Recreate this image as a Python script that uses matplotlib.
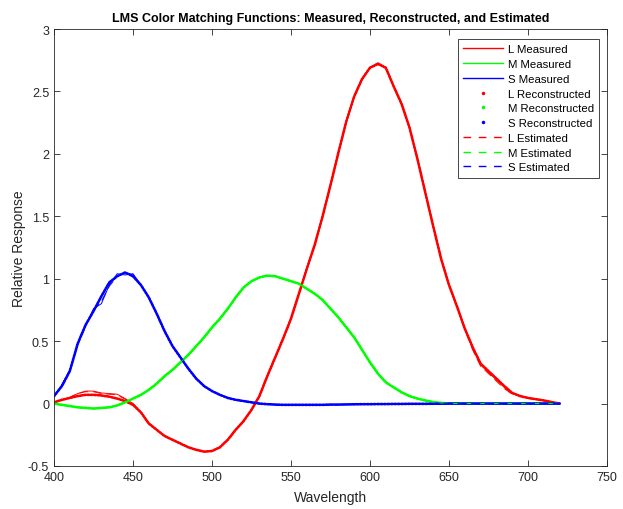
import matplotlib
matplotlib.use("Agg")
import matplotlib.pyplot as plt
from matplotlib.lines import Line2D

plt.rcParams['font.family'] = ['Liberation Sans', 'DejaVu Sans']

wavelength = list(range(400, 725, 5))

L_measured = [0.01, 0.03, 0.05, 0.08, 0.10, 0.10, 0.085, 0.08, 0.075, 0.04,
              0.00, -0.07, -0.16, -0.21, -0.26, -0.29, -0.32, -0.35, -0.37, -0.385,
              -0.38, -0.35, -0.29, -0.21, -0.14, -0.05, 0.06, 0.22, 0.37, 0.52,
              0.68, 0.88, 1.08, 1.27, 1.50, 1.75, 2.01, 2.26, 2.46, 2.60,
              2.69, 2.73, 2.69, 2.54, 2.40, 2.21, 1.96, 1.69, 1.42, 1.16,
              0.95, 0.78, 0.60, 0.44, 0.31, 0.25, 0.19, 0.13, 0.08, 0.06,
              0.045, 0.035, 0.025, 0.012, 0.00]
M_measured = [0.00, -0.01, -0.02, -0.03, -0.035, -0.04, -0.035, -0.03, -0.015, 0.01,
              0.04, 0.07, 0.11, 0.16, 0.22, 0.27, 0.33, 0.39, 0.46, 0.53,
              0.61, 0.68, 0.76, 0.85, 0.93, 0.98, 1.01, 1.025, 1.02, 1.00,
              0.98, 0.96, 0.92, 0.88, 0.83, 0.76, 0.69, 0.61, 0.53, 0.43,
              0.33, 0.24, 0.17, 0.13, 0.09, 0.06, 0.04, 0.025, 0.012, 0.005,
              0.002, 0.001, 0.001, 0.0, 0.0, 0.0, 0.0, 0.0, 0.0, 0.0,
              0.0, 0.0, 0.0, 0.0, 0.0]
S_measured = [0.06, 0.15, 0.27, 0.48, 0.62, 0.76, 0.80, 0.95, 1.04, 1.03,
              1.04, 0.95, 0.85, 0.72, 0.58, 0.46, 0.37, 0.28, 0.20, 0.14,
              0.10, 0.07, 0.045, 0.03, 0.02, 0.01, 0.0, -0.005, -0.008, -0.01,
              -0.01, -0.01, -0.01, -0.01, -0.01, -0.008, -0.008, -0.007, -0.006, -0.005,
              -0.005, -0.004, -0.004, -0.003, -0.003, -0.002, -0.002, -0.002, -0.001, -0.001,
              0.0, 0.0, 0.0, 0.0, 0.0, 0.0, 0.0, 0.0, 0.0, 0.0,
              0.0, 0.0, 0.0, 0.0, 0.0]

L_reconstructed = [0.01, 0.03, 0.045, 0.06, 0.07, 0.07, 0.065, 0.055, 0.04, 0.02,
                   -0.01, -0.07, -0.16, -0.21, -0.26, -0.29, -0.32, -0.35, -0.37, -0.385,
                   -0.38, -0.35, -0.29, -0.21, -0.14, -0.05, 0.06, 0.22, 0.37, 0.52,
                   0.68, 0.88, 1.08, 1.27, 1.50, 1.75, 2.01, 2.26, 2.46, 2.60,
                   2.69, 2.72, 2.69, 2.54, 2.40, 2.21, 1.96, 1.69, 1.42, 1.16,
                   0.95, 0.78, 0.60, 0.45, 0.32, 0.26, 0.20, 0.14, 0.085, 0.06,
                   0.045, 0.035, 0.025, 0.012, 0.00]
M_reconstructed = [0.00, -0.01, -0.02, -0.03, -0.035, -0.04, -0.035, -0.03, -0.015, 0.01,
                   0.04, 0.07, 0.11, 0.16, 0.22, 0.27, 0.33, 0.39, 0.46, 0.53,
                   0.61, 0.68, 0.76, 0.85, 0.93, 0.98, 1.01, 1.025, 1.02, 1.00,
                   0.98, 0.96, 0.92, 0.88, 0.83, 0.76, 0.69, 0.61, 0.53, 0.43,
                   0.33, 0.24, 0.17, 0.13, 0.09, 0.06, 0.04, 0.025, 0.012, 0.005,
                   0.002, 0.001, 0.001, 0.0, 0.0, 0.0, 0.0, 0.0, 0.0, 0.0,
                   0.0, 0.0, 0.0, 0.0, 0.0]
S_reconstructed = [0.06, 0.14, 0.26, 0.48, 0.63, 0.74, 0.86, 0.97, 1.02, 1.05,
                   1.02, 0.95, 0.85, 0.72, 0.58, 0.46, 0.37, 0.28, 0.20, 0.14,
                   0.10, 0.07, 0.045, 0.03, 0.02, 0.01, 0.0, -0.005, -0.008, -0.01,
                   -0.01, -0.01, -0.01, -0.01, -0.01, -0.008, -0.008, -0.007, -0.006, -0.005,
                   -0.005, -0.004, -0.004, -0.003, -0.003, -0.002, -0.002, -0.002, -0.001, -0.001,
                   0.0, 0.0, 0.0, 0.0, 0.0, 0.0, 0.0, 0.0, 0.0, 0.0,
                   0.0, 0.0, 0.0, 0.0, 0.0]

L_estimated = [0.01, 0.03, 0.05, 0.08, 0.095, 0.095, 0.08, 0.075, 0.07, 0.035,
               0.00, -0.07, -0.16, -0.21, -0.26, -0.29, -0.32, -0.35, -0.37, -0.385,
               -0.38, -0.35, -0.29, -0.21, -0.14, -0.05, 0.06, 0.22, 0.37, 0.52,
               0.68, 0.88, 1.08, 1.27, 1.50, 1.75, 2.01, 2.26, 2.46, 2.60,
               2.69, 2.73, 2.69, 2.54, 2.40, 2.21, 1.96, 1.69, 1.42, 1.16,
               0.95, 0.78, 0.60, 0.43, 0.30, 0.24, 0.18, 0.12, 0.075, 0.06,
               0.045, 0.035, 0.025, 0.012, 0.00]
M_estimated = [0.00, -0.01, -0.02, -0.03, -0.035, -0.04, -0.035, -0.03, -0.015, 0.01,
               0.04, 0.07, 0.11, 0.16, 0.22, 0.27, 0.33, 0.39, 0.46, 0.53,
               0.61, 0.68, 0.76, 0.85, 0.93, 0.98, 1.01, 1.025, 1.02, 1.00,
               0.98, 0.96, 0.92, 0.88, 0.83, 0.76, 0.69, 0.61, 0.53, 0.43,
               0.33, 0.24, 0.17, 0.13, 0.09, 0.06, 0.04, 0.025, 0.012, 0.005,
               0.002, 0.001, 0.001, 0.0, 0.0, 0.0, 0.0, 0.0, 0.0, 0.0,
               0.0, 0.0, 0.0, 0.0, 0.0]
S_estimated = [0.05, 0.15, 0.27, 0.47, 0.62, 0.75, 0.82, 0.94, 1.02, 1.05,
               1.03, 0.95, 0.85, 0.72, 0.58, 0.46, 0.37, 0.28, 0.20, 0.14,
               0.10, 0.07, 0.045, 0.03, 0.02, 0.01, 0.0, -0.005, -0.008, -0.01,
               -0.01, -0.01, -0.01, -0.01, -0.01, -0.008, -0.008, -0.007, -0.006, -0.005,
               -0.005, -0.004, -0.004, -0.003, -0.003, -0.002, -0.002, -0.002, -0.001, -0.001,
               0.0, 0.0, 0.0, 0.0, 0.0, 0.0, 0.0, 0.0, 0.0, 0.0,
               0.0, 0.0, 0.0, 0.0, 0.0]

labels = ['L Measured', 'M Measured', 'S Measured',
          'L Reconstructed', 'M Reconstructed', 'S Reconstructed',
          'L Estimated', 'M Estimated', 'S Estimated']
colors = ['#ff0000', '#00ff00', '#0000ff']

fig = plt.figure(figsize=(6.23, 5.10), dpi=100)
ax = fig.add_axes([54/623, 43/510, 553/623, 437/510])

measured = [L_measured, M_measured, S_measured]
recon = [L_reconstructed, M_reconstructed, S_reconstructed]
est = [L_estimated, M_estimated, S_estimated]

for d, c in zip(measured, colors):
    ax.plot(wavelength, d, color=c, lw=0.7)
for d, c in zip(recon, colors):
    ax.plot(wavelength, d, color=c, lw=1.9, linestyle=(0, (0.7, 0.6)),
            dash_capstyle='round', solid_joinstyle='round')
for d, c in zip(est, colors):
    ax.plot(wavelength, d, color=c, lw=0.7, linestyle=(0, (9, 5)))

handles = []
for c in colors:
    handles.append(Line2D([], [], color=c, lw=1.0))
for c in colors:
    handles.append(Line2D([], [], color=c, lw=0, marker='.', markersize=3))
for c in colors:
    handles.append(Line2D([], [], color=c, lw=1.0, linestyle=(0, (5.5, 5.5))))

leg = ax.legend(handles, labels, loc='upper right', bbox_to_anchor=(0.9855, 0.977),
                borderaxespad=0, fontsize=8.2, labelspacing=0.42, handlelength=3.5,
                handletextpad=0.4, borderpad=0.45, fancybox=False, framealpha=1,
                edgecolor='#262626')
leg.get_frame().set_linewidth(0.6)

ax.set_xlim(400, 750)
ax.set_ylim(-0.5, 3)
ax.set_xticks(range(400, 751, 50))
ax.set_yticks([-0.5, 0, 0.5, 1, 1.5, 2, 2.5, 3])
ax.set_yticklabels(['-0.5', '0', '0.5', '1', '1.5', '2', '2.5', '3'])
ax.tick_params(direction='in', top=True, right=True, labelsize=9,
               colors='#262626', length=4, width=0.6)
for s in ax.spines.values():
    s.set_color('#262626')
    s.set_linewidth(0.6)
ax.set_xlabel('Wavelength', fontsize=10, color='#262626', labelpad=5)
ax.set_ylabel('Relative Response', fontsize=10, color='#262626', labelpad=1)
ax.set_title('LMS Color Matching Functions: Measured, Reconstructed, and Estimated',
             fontsize=9, fontweight='bold', pad=6)

fig.savefig('out.png', dpi=100)
